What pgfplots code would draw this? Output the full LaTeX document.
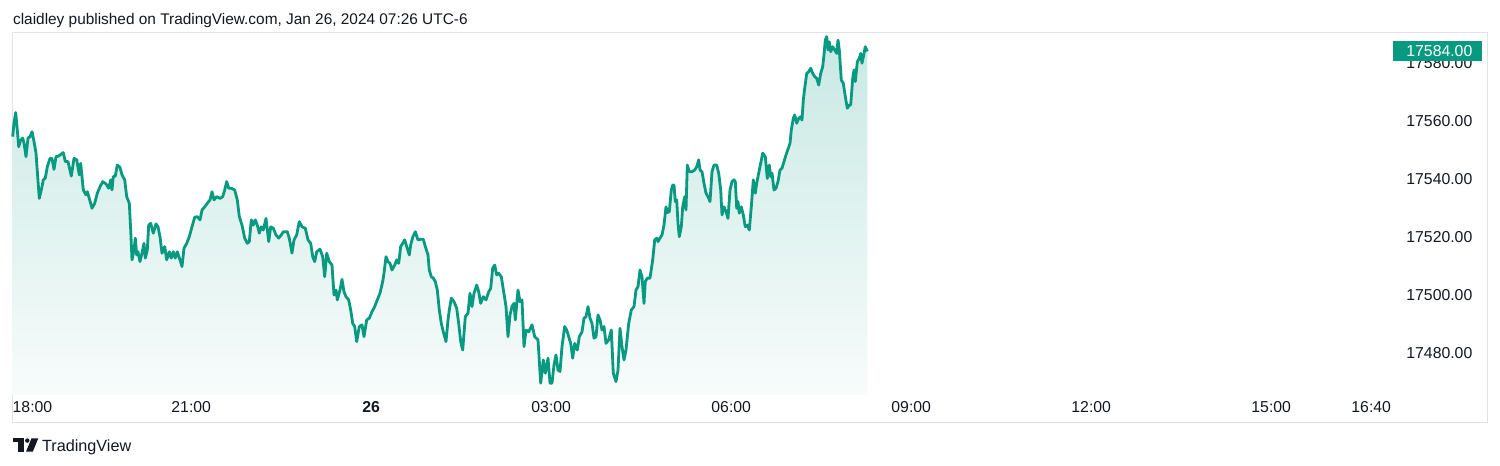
\documentclass[border=0pt]{standalone}
\usepackage{fontspec}
\setmainfont{Liberation Sans}
\usepackage{pgfplots}
\pgfplotsset{compat=1.18}
\usepackage{pgfplotstable}
\definecolor{tvgreen}{HTML}{089981}
\definecolor{tvtext}{HTML}{131722}
\definecolor{tvborder}{HTML}{E0E3EB}
\newcommand{\tvfont}{\fontsize{7.9pt}{9pt}\selectfont}

\pgfplotstableread[row sep=\\]{
t p\\
1.5 17554.6\\ 2.8 17559.3\\ 4.5 17562.9\\ 6.1 17556.9\\ 7.5 17551.1\\ 9.5 17553.4\\ 11.5 17554.1\\ 12.8 17552.4\\
14.8 17547.7\\ 16.8 17554.1\\ 18.8 17554.6\\ 20.8 17556.3\\ 22.8 17552.9\\ 24.8 17549.0\\ 26.5 17540.8\\ 28.1 17533.3\\
30.1 17536.2\\ 32.1 17539.7\\ 34.1 17540.3\\ 36.1 17544.2\\ 38.8 17547.1\\ 40.8 17547.1\\ 42.8 17543.3\\ 44.8 17547.7\\
47.5 17547.9\\ 50.1 17548.6\\ 52.1 17549.1\\ 54.1 17546.0\\ 56.8 17546.0\\ 60.1 17541.0\\ 62.8 17547.1\\ 65.5 17546.6\\
68.1 17541.4\\ 69.5 17545.4\\ 72.1 17536.2\\ 74.8 17534.5\\ 76.1 17535.6\\ 78.1 17533.3\\ 80.8 17529.9\\ 83.5 17531.6\\
86.1 17535.1\\ 88.8 17537.3\\ 91.5 17539.1\\ 94.8 17538.3\\ 97.5 17536.8\\ 99.5 17539.7\\ 100.8 17536.2\\ 102.1 17540.8\\
104.1 17541.0\\ 106.1 17544.8\\ 108.8 17544.0\\ 110.8 17541.4\\ 113.5 17539.7\\ 115.5 17533.9\\ 118.1 17531.6\\ 119.5 17522.4\\
120.8 17512.1\\ 122.8 17515.5\\ 124.1 17519.6\\ 125.5 17513.8\\ 126.8 17514.9\\ 128.8 17511.5\\ 130.8 17514.4\\ 132.8 17517.8\\
134.1 17512.7\\ 136.1 17515.5\\ 137.5 17524.1\\ 139.5 17524.7\\ 142.1 17521.3\\ 144.8 17524.5\\ 146.8 17523.5\\ 148.8 17520.1\\
150.8 17514.4\\ 153.5 17516.7\\ 155.5 17512.1\\ 158.1 17514.9\\ 160.1 17512.7\\ 162.1 17514.9\\ 164.1 17512.7\\ 166.1 17514.9\\
168.8 17512.1\\ 170.8 17509.8\\ 172.8 17516.1\\ 175.5 17517.8\\ 178.1 17520.1\\ 180.8 17523.5\\ 183.5 17526.8\\ 186.1 17527.0\\
188.8 17525.9\\ 190.8 17529.3\\ 193.5 17530.4\\ 196.1 17531.6\\ 198.8 17532.8\\ 200.8 17535.6\\ 202.8 17532.8\\ 205.5 17533.9\\
208.8 17533.3\\ 211.5 17533.9\\ 213.5 17536.2\\ 215.5 17539.1\\ 217.5 17536.8\\ 220.1 17536.8\\ 223.5 17536.2\\ 226.1 17532.8\\
228.1 17527.0\\ 230.8 17524.1\\ 233.5 17519.6\\ 236.1 17517.8\\ 238.1 17518.4\\ 240.1 17525.9\\ 242.1 17524.1\\ 244.1 17525.9\\
246.1 17524.1\\ 248.1 17521.3\\ 250.1 17523.5\\ 252.1 17522.4\\ 254.8 17526.4\\ 257.5 17518.4\\ 259.5 17523.5\\ 262.1 17523.0\\
264.8 17520.7\\ 267.5 17519.6\\ 270.1 17520.7\\ 272.1 17521.8\\ 276.1 17521.8\\ 278.1 17519.6\\ 280.8 17514.4\\ 282.8 17519.0\\
285.5 17520.7\\ 288.1 17525.3\\ 290.8 17523.5\\ 294.1 17523.0\\ 296.8 17519.0\\ 299.5 17517.8\\ 301.5 17513.2\\ 303.5 17511.5\\
305.5 17514.9\\ 308.8 17515.8\\ 311.5 17513.2\\ 313.5 17506.3\\ 315.5 17514.4\\ 318.1 17511.5\\ 320.8 17510.3\\ 322.8 17500.0\\
324.8 17501.7\\ 326.1 17498.3\\ 328.8 17501.7\\ 330.8 17505.4\\ 332.8 17501.1\\ 334.8 17499.4\\ 337.5 17498.3\\ 339.5 17494.8\\
341.5 17490.2\\ 343.5 17489.1\\ 345.5 17483.9\\ 348.1 17489.1\\ 350.8 17489.7\\ 352.8 17485.6\\ 355.5 17491.4\\ 358.1 17492.0\\
360.8 17494.2\\ 363.5 17496.0\\ 366.1 17498.3\\ 368.8 17500.6\\ 371.5 17504.6\\ 372.8 17507.5\\ 374.8 17513.2\\ 376.8 17511.5\\
378.8 17510.9\\ 380.8 17508.6\\ 383.5 17510.3\\ 385.5 17512.1\\ 387.5 17510.9\\ 389.5 17516.7\\ 391.5 17517.8\\ 393.5 17519.0\\
395.5 17516.7\\ 398.1 17513.8\\ 399.5 17517.2\\ 401.5 17519.9\\ 404.1 17521.8\\ 406.8 17519.0\\ 409.5 17519.2\\ 412.1 17519.2\\
414.1 17516.7\\ 416.8 17513.8\\ 418.1 17508.6\\ 420.1 17506.3\\ 422.1 17505.8\\ 424.1 17504.6\\ 426.1 17501.7\\ 428.1 17494.8\\
430.1 17490.2\\ 432.1 17487.3\\ 434.8 17483.9\\ 436.8 17491.4\\ 438.1 17494.8\\ 440.1 17498.9\\ 442.8 17497.7\\ 445.5 17495.4\\
447.5 17490.2\\ 449.5 17483.9\\ 451.5 17481.0\\ 454.1 17492.5\\ 456.8 17493.7\\ 458.8 17500.6\\ 460.8 17496.0\\ 462.8 17500.6\\
465.5 17503.4\\ 467.5 17501.1\\ 469.5 17497.1\\ 472.1 17499.4\\ 474.8 17498.3\\ 477.5 17501.1\\ 479.5 17502.3\\ 481.5 17509.2\\
483.5 17510.3\\ 485.5 17506.9\\ 487.5 17507.5\\ 490.1 17506.3\\ 494.8 17496.0\\ 496.8 17485.6\\ 498.8 17493.1\\ 500.8 17496.0\\
502.8 17497.1\\ 504.1 17491.4\\ 506.8 17501.7\\ 508.8 17497.7\\ 510.8 17498.3\\ 512.8 17482.2\\ 514.8 17487.9\\ 517.5 17487.3\\
520.8 17489.7\\ 523.5 17485.6\\ 526.8 17484.5\\ 529.5 17469.6\\ 532.1 17477.6\\ 534.1 17473.0\\ 536.8 17478.2\\ 538.8 17469.6\\
540.8 17469.6\\ 542.8 17475.9\\ 544.8 17479.3\\ 546.8 17474.1\\ 548.8 17473.6\\ 550.8 17482.2\\ 553.5 17489.1\\ 555.5 17487.9\\
557.5 17485.6\\ 559.5 17483.3\\ 561.5 17478.2\\ 563.5 17483.3\\ 566.1 17481.0\\ 568.1 17485.6\\ 570.8 17487.3\\ 572.8 17492.0\\
574.8 17492.5\\ 576.8 17496.0\\ 578.8 17492.0\\ 580.8 17490.2\\ 582.8 17485.1\\ 584.8 17485.6\\ 586.8 17493.1\\ 588.8 17491.4\\
590.8 17487.9\\ 592.8 17489.1\\ 594.8 17483.3\\ 597.5 17484.5\\ 600.1 17487.9\\ 602.1 17473.0\\ 604.8 17470.1\\ 606.8 17474.1\\
608.8 17488.5\\ 610.8 17482.2\\ 612.8 17477.6\\ 614.8 17481.0\\ 617.5 17490.2\\ 620.1 17494.8\\ 622.8 17496.0\\ 624.8 17501.7\\
626.8 17502.9\\ 628.8 17508.6\\ 630.8 17506.3\\ 632.8 17497.1\\ 634.1 17504.6\\ 636.1 17505.8\\ 638.8 17505.8\\ 641.5 17512.1\\
643.5 17519.0\\ 645.5 17519.6\\ 646.8 17518.4\\ 648.8 17519.6\\ 650.8 17520.7\\ 652.8 17524.1\\ 654.8 17530.4\\ 656.1 17528.4\\
658.1 17528.7\\ 660.1 17536.2\\ 661.5 17537.9\\ 662.8 17537.9\\ 664.1 17532.2\\ 665.5 17532.8\\ 666.8 17524.7\\ 668.1 17520.1\\
670.1 17523.5\\ 671.5 17530.4\\ 673.5 17533.9\\ 674.8 17529.3\\ 676.1 17544.8\\ 678.1 17542.5\\ 680.8 17542.5\\ 683.5 17543.1\\
685.5 17544.2\\ 687.5 17546.6\\ 688.8 17543.1\\ 690.8 17542.5\\ 692.8 17538.5\\ 694.8 17535.1\\ 696.8 17533.9\\ 698.8 17532.2\\
700.8 17542.5\\ 702.8 17544.8\\ 705.5 17544.8\\ 707.5 17542.0\\ 709.5 17536.2\\ 710.8 17527.6\\ 712.8 17530.4\\ 714.8 17528.7\\
716.8 17526.4\\ 718.8 17536.2\\ 720.8 17539.1\\ 722.8 17539.7\\ 724.1 17539.1\\ 725.5 17529.9\\ 726.8 17532.2\\ 728.1 17528.2\\
730.1 17530.4\\ 732.1 17527.6\\ 734.1 17523.5\\ 736.1 17524.1\\ 738.1 17522.4\\ 740.1 17530.4\\ 742.1 17539.7\\ 744.1 17535.1\\
745.5 17538.5\\ 747.5 17542.0\\ 749.5 17545.4\\ 751.5 17548.9\\ 754.1 17547.7\\ 756.1 17540.2\\ 758.1 17544.8\\ 759.5 17540.8\\
760.8 17542.0\\ 762.8 17536.2\\ 764.8 17536.8\\ 766.8 17539.1\\ 768.8 17543.1\\ 770.8 17543.7\\ 772.8 17546.0\\ 774.8 17548.3\\
778.8 17552.3\\ 780.1 17556.9\\ 782.1 17560.9\\ 783.5 17562.1\\ 785.5 17559.2\\ 787.5 17560.9\\ 789.5 17561.5\\ 790.8 17560.3\\
792.1 17567.2\\ 793.5 17571.3\\ 795.5 17576.4\\ 797.5 17577.0\\ 799.5 17578.2\\ 801.5 17576.4\\ 803.5 17575.3\\ 805.5 17574.7\\
807.5 17572.4\\ 809.5 17576.4\\ 811.5 17578.7\\ 812.8 17582.8\\ 814.1 17587.9\\ 815.5 17589.1\\ 816.8 17584.5\\ 818.1 17587.3\\
819.5 17583.9\\ 821.5 17585.6\\ 823.5 17584.5\\ 825.5 17583.3\\ 826.8 17587.9\\ 828.1 17584.5\\ 830.1 17574.1\\ 832.1 17573.0\\
834.1 17568.4\\ 836.1 17564.4\\ 838.1 17565.5\\ 839.5 17565.5\\ 841.5 17574.7\\ 842.8 17577.6\\ 844.1 17573.6\\ 846.1 17580.4\\
848.1 17581.6\\ 849.5 17583.3\\ 850.8 17579.9\\ 852.8 17583.3\\ 854.1 17585.6\\ 856.1 17584.0\\
}\pricedata

\begin{document}
\begin{tikzpicture}
\begin{scope}[x=0.5pt,y=-0.5pt,shift={(0pt,233pt)}]
  \path[use as bounding box, fill=white] (0,0) rectangle (1500,466);
  \draw[tvborder, line width=0.5pt] (12,33) rectangle (1487,423);
  \node[anchor=base west, inner sep=0pt, text=tvtext, font=\fontsize{7.7pt}{9pt}\selectfont]
    at (12.7,25) {claidley published on TradingView.com, Jan 26, 2024 07:26 UTC-6};
  % logo
  \fill[tvtext] (12.7,438.3) rectangle (24,442.5);
  \fill[tvtext] (18.3,438.3) rectangle (24,451.7);
  \fill[tvtext] (27.3,440.6) circle[radius=1.1pt];
  \fill[tvtext] (26,451.7) -- (31.5,438.3) -- (38.3,438.3) -- (32.8,451.7) -- cycle;
  \node[anchor=base west, inner sep=0pt, text=tvtext, font=\fontsize{8.1pt}{9pt}\selectfont]
    at (41.7,451.7) {TradingView};
\end{scope}
\begin{axis}[
  at={(5.6pt,35.5pt)}, anchor=south west, scale only axis,
  width=690pt, height=181pt,
  xmin=0, xmax=1380, ymin=17465.5, ymax=17590.34,
  scaled y ticks=false, scaled x ticks=false,
  axis line style={draw=none},
  major tick length=0pt,
  xtick={0,180,360,540,720,900,1080,1260,1360},
  xticklabels={\makebox[0pt][l]{\hspace{0.75pt}18:00},21:00,\textbf{26},03:00,06:00,09:00,12:00,15:00,16:40},
  ytick={17480,17500,17520,17540,17560,17580},
  yticklabels={17480.00,17500.00,17520.00,17540.00,17560.00,17580.00},
  yticklabel pos=right,
  xticklabel style={anchor=base, inner sep=0pt, yshift=-8.85pt, font=\tvfont, text=tvtext},
  yticklabel style={anchor=west, inner sep=0pt, xshift=7.4pt, font=\tvfont, text=tvtext},
]
  \addplot[draw=none, top color=tvgreen!22!white, bottom color=tvgreen!3!white, forget plot]
    table[x=t, y=p] {\pricedata} -- (axis cs:856.1,17465.5) -- (axis cs:1.5,17465.5) -- cycle;
  \addplot[tvgreen, line width=1.4pt, line join=round, mark=none] table[x=t, y=p] {\pricedata};
  \coordinate (lastp) at (axis cs:1380,17584);
\end{axis}
\fill[tvgreen] ([xshift=0.75pt,yshift=5pt]lastp) rectangle ([xshift=45.25pt,yshift=-5pt]lastp);
\node[anchor=west, inner sep=0pt, text=white, font=\tvfont] at ([xshift=7.4pt]lastp) {17584.00};
\end{tikzpicture}
\end{document}
